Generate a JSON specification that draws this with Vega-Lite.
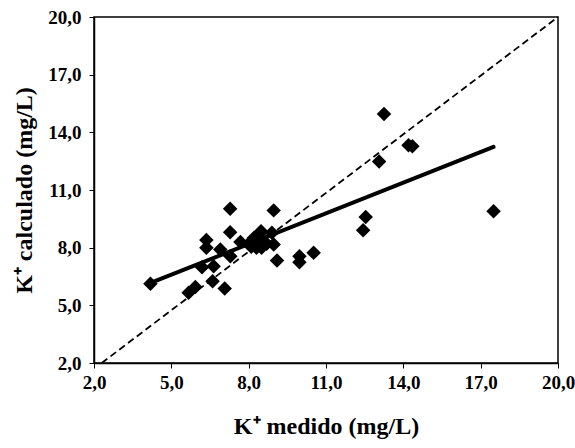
{
  "$schema": "https://vega.github.io/schema/vega-lite/v6.json",
  "width": 464,
  "height": 346,
  "autosize": "none",
  "padding": {"left": 94, "top": 17, "right": 17, "bottom": 85},
  "background": "white",
  "config": {
    "view": {"stroke": "black", "strokeWidth": 1.5},
    "font": "Liberation Serif",
    "axis": {
      "grid": false,
      "domainColor": "black",
      "domainWidth": 1.5,
      "tickColor": "black",
      "tickSize": 5,
      "labelFont": "Liberation Serif",
      "labelFontSize": 19,
      "labelFontWeight": "bold",
      "labelColor": "black",
      "titleFont": "Liberation Serif",
      "titleFontSize": 24,
      "titleFontWeight": "bold",
      "titleColor": "black"
    }
  },
  "datasets": {
    "pts": [
      {"medido": 4.19, "calculado": 6.12},
      {"medido": 5.67, "calculado": 5.65},
      {"medido": 5.93, "calculado": 5.96},
      {"medido": 6.19, "calculado": 6.98},
      {"medido": 6.36, "calculado": 8.4},
      {"medido": 6.36, "calculado": 8.0},
      {"medido": 6.6, "calculado": 6.25},
      {"medido": 6.64, "calculado": 7.03},
      {"medido": 6.9, "calculado": 7.9},
      {"medido": 7.07, "calculado": 5.87},
      {"medido": 7.28, "calculado": 10.03},
      {"medido": 7.28, "calculado": 8.8},
      {"medido": 7.29, "calculado": 7.55},
      {"medido": 7.68, "calculado": 8.3},
      {"medido": 8.0, "calculado": 8.2},
      {"medido": 8.1, "calculado": 8.05},
      {"medido": 8.2, "calculado": 8.5},
      {"medido": 8.3, "calculado": 8.0},
      {"medido": 8.3, "calculado": 8.4},
      {"medido": 8.4, "calculado": 8.7},
      {"medido": 8.48, "calculado": 8.85},
      {"medido": 8.5, "calculado": 8.3},
      {"medido": 8.5, "calculado": 8.0},
      {"medido": 8.7, "calculado": 8.2},
      {"medido": 8.9, "calculado": 8.77},
      {"medido": 8.97, "calculado": 8.16},
      {"medido": 8.97, "calculado": 9.94},
      {"medido": 9.1, "calculado": 7.33},
      {"medido": 9.97, "calculado": 7.55},
      {"medido": 9.97, "calculado": 7.24},
      {"medido": 10.52, "calculado": 7.73},
      {"medido": 12.44, "calculado": 8.9},
      {"medido": 12.54, "calculado": 9.6},
      {"medido": 13.06, "calculado": 12.48},
      {"medido": 13.25, "calculado": 14.96},
      {"medido": 14.2, "calculado": 13.33},
      {"medido": 14.35, "calculado": 13.28},
      {"medido": 17.5, "calculado": 9.9}
    ],
    "reg": [
      {"medido": 4.17, "calculado": 6.15},
      {"medido": 17.5, "calculado": 13.24}
    ],
    "ident": [
      {"medido": 2.3, "calculado": 2.0},
      {"medido": 20.0, "calculado": 20.0}
    ]
  },
  "layer": [
    {
      "data": {"name": "ident"},
      "mark": {"type": "line", "color": "black", "strokeWidth": 1.8, "strokeDash": [7, 4]},
      "encoding": {
        "x": {
          "field": "medido", "type": "quantitative",
          "scale": {"domain": [2, 20], "nice": false, "zero": false},
          "axis": {
            "title": "K⁺ medido (mg/L)",
            "values": [2, 5, 8, 11, 14, 17, 20],
            "labelExpr": "replace(format(datum.value, '.1f'), '.', ',')",
            "labelPadding": 5,
            "titlePadding": 22,
            "labelFlush": false
          }
        },
        "y": {
          "field": "calculado", "type": "quantitative",
          "scale": {"domain": [2, 20], "nice": false, "zero": false},
          "axis": {
            "title": "K⁺ calculado (mg/L)",
            "values": [2, 5, 8, 11, 14, 17, 20],
            "labelExpr": "replace(format(datum.value, '.1f'), '.', ',')",
            "labelPadding": 8,
            "titlePadding": 11,
            "labelFlush": false
          }
        }
      }
    },
    {
      "data": {"name": "reg"},
      "mark": {"type": "line", "color": "black", "strokeWidth": 4, "strokeCap": "round"},
      "encoding": {
        "x": {"field": "medido", "type": "quantitative"},
        "y": {"field": "calculado", "type": "quantitative"}
      }
    },
    {
      "data": {"name": "pts"},
      "mark": {"type": "point", "shape": "diamond", "filled": true, "color": "black", "opacity": 1, "size": 210},
      "encoding": {
        "x": {"field": "medido", "type": "quantitative"},
        "y": {"field": "calculado", "type": "quantitative"}
      }
    }
  ]
}
